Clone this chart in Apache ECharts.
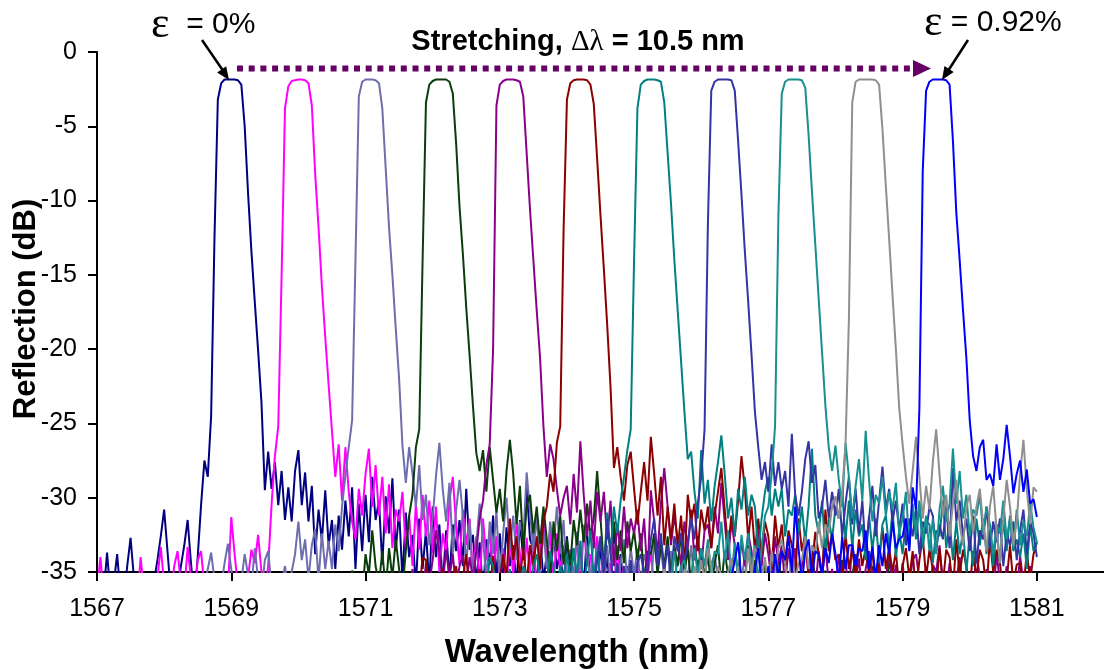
<!DOCTYPE html>
<html><head><meta charset="utf-8">
<script src="https://cdn.jsdelivr.net/npm/echarts@6/dist/echarts.min.js"></script>
<style>html,body{margin:0;padding:0;background:#fff}#c{width:1104px;height:670px}</style>
</head><body><div id="c"></div>
<script>
// ---- data ----
const wavelengthStep = 0.05; // nm between samples
const xTickValues = [1567, 1569, 1571, 1573, 1575, 1577, 1579, 1581];
const strainLabels = ['0%', '0.092%', '0.184%', '0.276%', '0.368%', '0.46%', '0.552%', '0.644%', '0.736%', '0.828%', '0.92%'];
const seriesStart = [1567.00, 1567.00, 1568.50, 1570.50, 1571.50, 1571.80, 1572.80, 1574.40, 1575.40, 1575.40, 1576.40];

const db1 = [
-36,-35.6,-36.4,-33.7,-36.5,-35.8,-33.8,-36.5,-36.8,-34.6,-32.7,-35.4,-37,-36.6,-37,-36.4,-37,-35.6,-34.2,-32.6,
-30.8,-33.6,-36.4,-37,-36.2,-34.6,-33.2,-31.5,-34.4,-36.8,-34,-30.5,-27.5,-28.6,-24.5,-12.5,-3.2,-2.1,-1.85,-1.85,
-1.85,-1.85,-1.9,-2.2,-5,-9.5,-13.4,-16.8,-20.1,-23.6,-29.5,-26.9,-29.4,-27.6,-30.5,-28.2,-31.5,-29.3,-31.6,-28.2,
-26.8,-30.5,-28.3,-31.6,-29.2,-33.8,-30.8,-32.9,-29.5,-33.2,-31.5,-34.8,-31.2,-33.5,-30.2,-32.6,-29.3,-34.8,-30.4,-33.6,
-29.8,-33,-28.6,-31.5,-30.2,-34.5,-29.9,-32.4,-28.7,-33.6,-30.8,-35.5,-31,-34,-32.5,-36,-31.4,-34.8,-32.2,-36,
-30.6,-34,-31.8,-36,-32.2,-35.5,-31.8,-33.6,-31.5,-34.6,-29.4,-33.5,-32.5,-35.8,-33,-36.5,-32.8,-34.5,-31.2,-35.5,
-32.4,-35.5,-32,-34.6,-33.2,-36,-31.5,-34.2,-29.2,-32.8,-33.5,-36,-32.4,-35.6,-33.8,-36.5,-32.2,-34.8,-33.6,-36,
-32.6,-35.4,-33.4,-36.5,-33.7,-36,-32.4,-35.8,-34.6,-36.5,-33.2,-35.6,-34,-36.5,-31.8,-35.2,-33.8,-36.5,-34.6,-36.5,-36];
const db2 = [
-36.5,-34,-36.5,-37,-36.6,-37,-37,-36.8,-37,-36.5,-37,-36.8,-37,-34,-36.4,-37,-36.8,-37,-35.4,-33.3,
-35.8,-37,-36.6,-34.6,-33.6,-35.8,-36.4,-33.3,-35.5,-37,-34.2,-33.6,-36,-37,-36.2,-36.8,-37,-36.4,-36.8,-36.4,
-31.3,-33.8,-36,-37,-36,-35.4,-33.5,-34.4,-32.5,-35,-36.5,-34.6,-30.5,-27.2,-25.2,-15,-3.8,-2.3,-1.95,-1.9,
-1.85,-1.85,-1.9,-2.1,-3.6,-8.2,-11.8,-15.8,-19.2,-22.4,-25.5,-28.6,-26.4,-30.2,-26.6,-29.6,-31.6,-32.8,-29.4,-31.2,
-28.4,-26.7,-30.6,-27.8,-31.2,-28.6,-32.4,-29.1,-33.4,-30.8,-31.6,-29.6,-33.5,-31.2,-34.6,-30.4,-33.5,-29.8,-32.6,-30.2,
-33.7,-30.6,-35,-32.4,-33.8,-30.2,-28.6,-31.9,-34.5,-30.8,-33.2,-31.4,-35.2,-32.6,-36,-31.4,-34.2,-32.2,-35.6,-32.6,
-35.8,-33.4,-36,-32.8,-35.2,-31.6,-33.8,-36,-32.7,-35.1,-32.2,-36.5,-33.2,-30.8,-34.6,-32.2,-36,-32.4,-35,-33.2,
-36,-33.5,-35.8,-32.4,-36.5,-31.8,-34.6,-33.8,-36,-32.6,-35.8,-34,-36.5,-34.4,-36.5,-33.2,-35.6,-34.6,-36.5,-35.2,
-36.5,-34.2,-36,-37,-35.4,-33.6,-36.2,-37,-36,-34.8,-36.5,-37,-35.2,-36.5,-37,-36,-35.5,-37,-36.4,-37,-37];
const db3 = [
-37,-36.5,-36,-34.8,-33.7,-35.5,-36.5,-36,-34.4,-33.1,
-34.8,-36.5,-37,-35.6,-33.8,-35.2,-36,-33.4,-35.5,-36.5,-34.2,-33.6,-36,-37,-36.5,-35.8,-34.6,-36.2,-35,-33.8,
-31.6,-34.2,-32.8,-35.5,-33.2,-32.1,-35.6,-32.4,-34.8,-32.9,-34.8,-31.8,-33.6,-30.6,-28.5,-26.6,-24.8,-14,-3,-2,
-1.85,-1.85,-1.85,-1.9,-2.1,-3.8,-7.8,-11.8,-15,-18.6,-22,-26.5,-29,-26.6,-28.4,-30.6,-27.8,-31.5,-29.8,-33.2,
-31.4,-28.5,-26.3,-29.4,-31.6,-29,-33.8,-30.8,-28.8,-31.2,-34.5,-31.6,-35.8,-33.2,-30.4,-32.8,-35.5,-31.6,-33.8,-30.9,
-35.6,-32.4,-30,-33.5,-31.2,-34.2,-31.6,-32.8,-28.3,-30.9,-33.6,-31.2,-35.2,-32.2,-34.8,-31.6,-33.4,-30.6,-33.8,-31.5,
-36,-33.6,-35.4,-32.3,-34.9,-32.1,-33.5,-35.8,-32.6,-34,-32.6,-35.5,-33.2,-35.8,-33.1,-36.5,-34.4,-32.8,-35.6,-33.4,
-35.2,-33.4,-36,-33.8,-34.6,-36.2,-32.8,-34.8,-33.4,-35.4,-36.4,-33.6,-35.8,-34,-34.2,-36.5,-35.4,-33.2,-35.9,-34.2,
-36.5,-34.8,-36.2,-34.5,-33.8,-35.6,-36.5,-35,-36.6,-34.2,-36,-36.5,-35.5,-33.9,-36.2,-36.5,-35.2,-36.6,-34.6,-36.4,
-36.6,-35.4,-36.4,-34.2,-36.5,-36.6,-35.2,-36.4,-36.6,-35.8,-36.6];
const db4 = [
-36.5,-35.8,-37,-36.2,-35.6,-36.8,-34.9,-36.5,-35.4,-36.6,
-33.8,-35.2,-32.2,-34.6,-35.8,-33.6,-36.2,-33.4,-35.4,-32.8,-34.8,-36.2,-33.6,-31.2,-29.8,-26.6,-25.4,-14,-3.4,-2.2,
-1.95,-1.85,-1.85,-1.85,-1.85,-2,-2.8,-6.2,-10.4,-13.6,-17.2,-20.4,-23.8,-27,-28.2,-26.8,-29.6,-26.6,-28.8,-31,
-29.4,-31.6,-28.2,-26.1,-28.4,-31.8,-29.2,-33.5,-30.6,-29.8,-32.4,-30.6,-33.1,-30.6,-32.8,-35.4,-31.6,-33.6,-31.2,-34.5,
-32.8,-34.6,-31.5,-33.2,-30.8,-33,-30.4,-32.6,-31.4,-28.2,-31.4,-34.6,-32.2,-33.4,-31.6,-34.2,-32.2,-34.4,-31.6,-33.6,
-32.2,-34.2,-32.4,-35.6,-33.6,-33.8,-32.4,-35.2,-33.1,-34.6,-32.6,-35.4,-33.2,-34.6,-32.4,-35.2,-33.4,-35.8,-33.2,-34.8,
-33.4,-35.4,-33.8,-36.2,-34.4,-33.2,-35.9,-33.6,-35.2,-34.1,-36.5,-34.8,-36.2,-35.4,-33.2,-35.8,-34.2,-36.6,-35.6,-34.4,
-36.2,-36.6,-35.2,-33.8,-36,-36.6,-35.5,-36.6,-34.6,-36.3,-36.6,-35.4,-36.6,-33.6,-35.6,-36.6,-36.2,-34.9,-36.6,-36.6,
-35.2,-36.6,-34.2,-36.4,-36.6,-35.3,-33.8,-36.2,-36.6,-35.6,-36.6,-34.6,-36.5,-36.6,-35.4,-36.6,-34,-36.2,-36.6,-36.6,-35.5];
const db5 = [
-36.6,-35.8,-36.6,-36.2,-34.8,-36.5,-35.6,-36.6,-34.4,-35.8,
-34.2,-32.2,-33.6,-35.8,-33.5,-35.4,-33.8,-36.2,-34.6,-33.9,-36,-34,-35.5,-33.6,-31.4,-30.2,-27.8,-26.4,-20,-3.6,
-2.2,-1.95,-1.85,-1.85,-1.85,-1.9,-2,-3,-6.8,-10.6,-14,-17.4,-20.6,-25.2,-28.6,-26.4,-27.4,-29.4,-31.2,-30,
-29.2,-31.8,-28.4,-31,-26.2,-29.8,-32.6,-30.2,-33.4,-29.6,-31.6,-29.6,-32.8,-30.2,-34.6,-31.8,-33.6,-30.6,-33.4,-31.4,
-32.4,-30.8,-33.6,-31.4,-35.4,-29.5,-31.6,-33.8,-30.4,-28,-30.6,-33.2,-31.2,-32.8,-34.6,-31.6,-33.4,-30.8,-34.2,-32.6,
-34.8,-32.2,-31.8,-33.4,-30.6,-32.4,-29,-31.6,-34.2,-31.6,-33.2,-35.4,-32.8,-34.6,-32.4,-33.6,-35.8,-32.2,-34.6,-32.4,
-33.8,-35.6,-32.6,-34.4,-33.2,-36,-33.4,-35.2,-33.4,-36.2,-34.6,-32.8,-35.4,-34,-36.2,-33.6,-35.4,-33.2,-35.8,-34.8,
-36.2,-33.8,-35.2,-34.2,-36.5,-32.8,-35.6,-34.1,-36.4,-34.8,-33.6,-35.2,-36.5,-34.2,-36.4,-35.6,-33.4,-36,-34.5,-36.5,
-34.4,-36.5,-35.8,-34.2,-33.8,-35.6,-36.5,-34.6,-36.2,-34.5,-35,-33.2,-35.8,-36.5,-34.4,-36.5,-35.6,-34,-36.3,-35.2,
-35.2,-36.5,-33.6,-35.4,-36.5,-34.8,-36.4,-36.5,-33.8,-35.6,-36.5,-34.6,-36.2,-35.4,-36.5,-33.9,-35.8,-36.5,-34.6,-36.5,-36];
const db6 = [
-36.4,-34,-34.2,-36.2,
-36.6,-35.2,-36.5,-34.8,-36.3,-36.6,-35.2,-34.6,-36.4,-35.4,-33.8,-36.6,-35.4,-36.2,-34.8,-36.6,-35,-36.4,-33.9,-36.6,
-35.6,-33.8,-35.4,-31.4,-34.2,-32.6,-35.4,-33.4,-35.8,-33.2,-34.6,-32.6,-34.8,-31.6,-30.6,-28.4,-29.6,-26.3,-25.2,-12,
-3.2,-2.1,-1.9,-1.85,-1.85,-1.85,-1.9,-2.2,-3.5,-7.2,-11,-14.6,-18.4,-22.6,-28,-26.6,-28.6,-30.2,-27.8,-26.9,
-29.4,-31.8,-29.6,-27.6,-30.2,-25.9,-28.4,-31.2,-28.6,-33.2,-30.6,-32.8,-30.4,-33.4,-31.2,-34.6,-29.8,-31.6,-30.4,-33.6,
-30.8,-32.2,-30.6,-33.4,-31.2,-29.6,-28,-30.8,-33.4,-31.2,-32.6,-30.2,-27.2,-29.4,-32.8,-30.6,-33.6,-31.4,-33.8,-31.6,
-32.6,-34.8,-31.2,-33.4,-31.8,-34.6,-32.2,-33.2,-35.4,-31.4,-33.6,-32.4,-35.4,-34.6,-32.3,-33.8,-35.4,-30.8,-33.6,-32.4,
-34.2,-33.8,-35.6,-32.4,-34.8,-33.4,-35.2,-32.8,-34.6,-33.4,-35.2,-33.4,-36.5,-34.2,-32,-34.8,-33.4,-35,-33.6,-36.2,
-34.6,-33.4,-35.4,-33.6,-36.5,-34.2,-32.6,-35.4,-33.5,-34.8,-36.2,-33.4,-35.8,-33.5,-34,-36.3,-32.8,-35.2,-33.5,-34.6,
-36.2,-33.6,-35.4,-33.5,-34.2,-36.2,-32.8,-35,-33.5,-34.4,-36.5,-35.6,-33.2,-35.8,-34.5,-34.4,-36.2,-33.6,-35.6,-33.8,-33];
const db7 = [
-36.4,-34,-34.6,-36.2,
-36.6,-35.4,-36.5,-34.8,-36.6,-35.6,-36.4,-34.6,-35.2,-36.4,-34.6,-33.8,-35.4,-36.6,-35.8,-33.6,-34.6,-36.2,-34.6,-35.4,
-33.8,-35.6,-33.4,-35.2,-32.9,-36.4,-34.2,-32.2,-35.4,-33.6,-35.8,-34.8,-31,-33.8,-30.6,-32.4,-30.2,-28.6,-26.8,-25.4,
-14,-3.8,-2.2,-1.95,-1.85,-1.85,-1.85,-1.9,-2,-3.4,-6.8,-10.2,-14,-17.4,-20.8,-24.2,-27.4,-26.9,-29.6,-31.4,
-26.8,-30.4,-28.8,-31.6,-29.2,-27.6,-25.8,-28.4,-31.4,-30,-32.6,-29.4,-30.8,-28.6,-31.2,-29.8,-30.6,-33.8,-31.4,-29.6,
-28.6,-31.2,-29.4,-30.6,-29.4,-32.6,-30.8,-31.2,-29.8,-32.4,-30.6,-33,-30.6,-26.7,-31.2,-32.4,-30.2,-33.6,-31.4,-32.8,
-30.6,-31.4,-29.6,-32.8,-30.2,-33.4,-30.8,-32.6,-31.8,-34.2,-31.2,-33.6,-31.4,-34.4,-31.8,-31.2,-33.4,-30.8,-34,-32.2,
-33.8,-31.4,-33.4,-30.6,-32.8,-30.4,-33.4,-31.6,-31.8,-34.4,-32.2,-32.6,-30.2,-33.4,-31.6,-34.2,-31.6,-33.8,-32.2,-35,
-32.4,-34.6,-31.4,-33.2,-31.4,-33.8,-32.2,-34.6,-32,-34.4,-31.5,-33.6,-31.2,-33.6,-32.8,-34,-32.4,-34.8,-31.8,-33.6,-33];
const db8 = [
-36.4,-34.2,-32.6,-35.4,-31.4,-33.8,-36.2,-34.4,-36.6,-34.6,-36.4,-34.2,
-36.6,-34.4,-33.8,-35.2,-34.6,-32.8,-31.4,-34.6,-32.4,-35,-33.2,-35.8,-32.6,-33.6,-32.4,-34.4,-33,-31.4,-32.8,-30.4,
-28.6,-25.4,-11.5,-2.6,-2,-1.85,-1.85,-1.85,-1.85,-1.9,-2.6,-6,-9.6,-13.4,-16.8,-20.4,-24.2,-26.6,-28.8,-27.6,
-29.6,-26.4,-29.2,-27.6,-29.4,-28.2,-30.6,-25.7,-29.8,-31.2,-29.6,-27.4,-26.2,-29,-27.8,-31.4,-30.6,-28.8,-31.4,-29.6,
-31.2,-29.4,-32.6,-30.4,-28.6,-31.8,-29.4,-32.4,-30.2,-33.6,-31.4,-29.2,-32.6,-30.2,-27.9,-30.8,-29.4,-31.6,-30.2,-32.2,
-30.4,-33.2,-31.4,-32.6,-30.8,-33.8,-31.6,-32.4,-30.6,-31.2,-33.6,-31.8,-32.8,-30.6,-33.4,-28,-31.6,-30.2,-32.6,-31.4,
-33.6,-31.2,-34.4,-32.2,-32.8,-30.6,-33.4,-31.6,-33,-31.4,-34.6,-32.4,-33.2,-31.6,-34.2,-32.2,-30.8,-33.8,-31.6,-32.4,-34];
const db9 = [
-36.4,-34.8,-36.6,-35.4,-33.6,-35.8,-34.6,-34.2,-36.2,-35.6,-33.4,-35.2,
-33.4,-34.6,-32.8,-35.2,-33.6,-33.8,-31.6,-34.4,-32.2,-35.4,-33,-35.6,-32.5,-34.2,-32.4,-34.8,-33.2,-35.6,-33.4,-31.2,
-30.6,-28.4,-25.2,-11,-2.8,-2,-1.85,-1.85,-1.85,-1.85,-1.9,-2.4,-5.6,-9.4,-13,-16.6,-20.2,-23.8,-26.6,-28.2,
-26.5,-28.8,-30.6,-26.3,-28.6,-31.4,-29.2,-27.4,-30.2,-25.5,-28.8,-31.6,-29.8,-30.4,-28.6,-31.2,-29.6,-30.8,-29,-32.4,
-31.4,-29.6,-33.2,-30.4,-32.4,-30.2,-32.8,-31.2,-33.6,-31.4,-33.8,-30.8,-29.2,-31.6,-30.4,-26.7,-30.4,-28.2,-31.4,-29.8,
-32.6,-30.8,-31.2,-29.8,-32.4,-30.6,-31.8,-33.8,-31.8,-32.4,-30.2,-32.8,-31.4,-33.4,-30.8,-33.2,-31.6,-32.6,-30.4,-32,-33];
const db10 = [
-36.6,-34.8,-35.4,-36.2,-36.6,-35.6,-36.6,-34.8,-35.2,-36.4,-34.6,-35.8,
-34.2,-35.6,-33.4,-34.6,-36.2,-34.6,-35.2,-36.4,-35,-34.1,-36.2,-34.6,-35.6,-35.8,-33.4,-35.2,-33.4,-33.8,-35.6,-34,
-36.2,-33.6,-35.2,-33.4,-32.8,-34.4,-36.2,-33.4,-35.6,-34.4,-34.2,-32.6,-34.8,-33.2,-33.8,-31.6,-33.4,-31.8,-32.4,-30.6,
-29.9,-31.4,-29.6,-26.4,-18,-3.4,-2,-1.85,-1.85,-1.85,-1.85,-1.85,-1.9,-2.2,-5.2,-9,-12.6,-16.4,-20,-24,
-26.4,-28.6,-30.4,-28.2,-25.9,-28.6,-31.4,-29.2,-30.8,-27.6,-25.4,-28.4,-31.2,-29.8,-32.6,-30.4,-28.8,-31.8,-33.2,-30.6,
-29.8,-32.4,-30.6,-29.4,-31.8,-33.6,-30.6,-29.2,-32.2,-34.4,-31.4,-28.8,-30.6,-33.2,-31.6,-28.4,-26.1,-29.4,-31.8,-29.3,-29.6];
const db11 = [
-36.6,-35.4,-34.2,-33,-35.6,-36.6,-35.2,-36.4,-34.8,-33.4,-35.8,-36.6,
-34.6,-36.2,-33.8,-35.4,-33.6,-34.2,-32.6,-35,-30.6,-33.4,-35.8,-33.6,-32.8,-35.4,-33.6,-33.8,-35.2,-33.4,-34.4,-32.4,
-33.8,-35.6,-32.6,-34.8,-33.2,-33.2,-34.6,-33.4,-33.6,-32.2,-34.8,-33.3,-35.4,-33.2,-34.6,-32.4,-33.8,-31.6,-33.4,-32.8,
-32.6,-31.4,-33.6,-29.3,-30.8,-24,-8,-2.6,-2,-1.85,-1.85,-1.85,-1.85,-1.9,-2.2,-6,-10.8,-14,-17.4,-20.6,
-24.8,-27.2,-28.2,-26.6,-26.1,-28.8,-28.4,-29.2,-26.4,-28.8,-27.4,-25.1,-27.2,-29.7,-28.4,-27.5,-29.6,-28.1,-30.4,-30.1,-31.3];

const reflectionDb = [db1, db2, db3, db4, db5, db6, db7, db8, db9, db10, db11];

// ---- styles ----
const palette = ['#000080', '#FF00FF', '#6E6EAE', '#0B3D0B', '#8B008B', '#8B0000', '#008080', '#3434A4', '#169090', '#8F8F8F', '#0000FF'];
const FONT = "'Liberation Sans', Arial, sans-serif";

const chart = echarts.init(document.getElementById('c'), null, {renderer: 'canvas'});

const series = reflectionDb.map((vals, k) => ({
  name: 'ε = ' + strainLabels[k],
  type: 'line',
  data: vals.map((v, i) => [+(seriesStart[k] + i * wavelengthStep).toFixed(2), v]),
  showSymbol: false,
  symbol: 'none',
  clip: true,
  lineStyle: {color: palette[k], width: 2},
  itemStyle: {color: palette[k]},
  z: 2 + k,
  animation: false
}));

function arrowHead(tx, ty, dx, dy, len, half, color) {
  const n = Math.hypot(dx, dy); dx /= n; dy /= n;
  const bx = tx - dx * len, by = ty - dy * len;
  return {type: 'polygon', shape: {points: [[tx, ty], [bx - dy * half, by + dx * half], [bx + dy * half, by - dx * half]]}, style: {fill: color}, z: 100};
}

const option = {
  animation: false,
  backgroundColor: '#ffffff',
  grid: {left: 97, right: 0, top: 52, bottom: 98, containLabel: false, outerBoundsMode: 'none'},
  xAxis: {
    type: 'value', min: 1567, max: 1582,
    axisLine: {show: true, onZero: false, lineStyle: {color: '#000', width: 2}},
    axisTick: {show: true, length: 9, customValues: xTickValues, lineStyle: {color: '#000', width: 2}},
    axisLabel: {customValues: xTickValues, formatter: v => String(v), color: '#000', fontSize: 25, fontFamily: FONT, margin: 25},
    splitLine: {show: false}
  },
  yAxis: {
    type: 'value', min: -35, max: 0, interval: 5,
    axisLine: {show: true, onZero: false, lineStyle: {color: '#000', width: 2}},
    axisTick: {show: true, length: 9, lineStyle: {color: '#000', width: 2}},
    axisLabel: {color: '#000', fontSize: 25, fontFamily: FONT, margin: 20},
    splitLine: {show: false}
  },
  series: series,
  graphic: [
    {type: 'text', z: 100, style: {x: 577, y: 653, text: 'Wavelength (nm)', textAlign: 'center', textVerticalAlign: 'middle', fill: '#000', font: "bold 33px 'Liberation Sans', Arial, sans-serif"}},
    {type: 'text', z: 100, x: 26, y: 309, rotation: Math.PI / 2, style: {x: 0, y: 0, text: 'Reflection (dB)', textAlign: 'center', textVerticalAlign: 'middle', fill: '#000', font: "bold 31px 'Liberation Sans', Arial, sans-serif"}},
    {type: 'text', z: 100, style: {x: 578, y: 42, textAlign: 'center', textVerticalAlign: 'middle',
      text: '{b|Stretching, }{g|Δλ}{b| = 10.5 nm}',
      rich: {b: {fontSize: 29, fontWeight: 'bold', fontFamily: FONT, color: '#000'},
             g: {fontSize: 29, fontFamily: "'Liberation Serif', serif", color: '#000'}}}},
    {type: 'text', z: 100, style: {x: 151, y: 25, textAlign: 'left', textVerticalAlign: 'middle',
      text: '{e|ε}{t|  = 0%}',
      rich: {e: {fontSize: 44, fontFamily: "'Liberation Serif', serif", color: '#000'},
             t: {fontSize: 30, fontFamily: FONT, color: '#000'}}}},
    {type: 'text', z: 100, style: {x: 924, y: 23, textAlign: 'left', textVerticalAlign: 'middle',
      text: '{e|ε}{t| = 0.92%}',
      rich: {e: {fontSize: 44, fontFamily: "'Liberation Serif', serif", color: '#000'},
             t: {fontSize: 30, fontFamily: FONT, color: '#000'}}}},
    {type: 'line', z: 100, shape: {x1: 202, y1: 40, x2: 226, y2: 75}, style: {stroke: '#000', lineWidth: 2.5}},
    arrowHead(229, 80, 24, 35, 13, 5.5, '#000'),
    {type: 'line', z: 100, shape: {x1: 968, y1: 40, x2: 946, y2: 74}, style: {stroke: '#000', lineWidth: 2.5}},
    arrowHead(942, 80, -22, 34, 13, 5.5, '#000'),
    {type: 'line', z: 100, shape: {x1: 237, y1: 68.5, x2: 912, y2: 68.5}, style: {stroke: '#660066', lineWidth: 6, lineDash: [6, 5.7]}},
    {type: 'polygon', z: 100, shape: {points: [[913, 60], [931, 68.5], [913, 77]]}, style: {fill: '#660066'}}
  ]
};
chart.setOption(option);
</script>
</body></html>
